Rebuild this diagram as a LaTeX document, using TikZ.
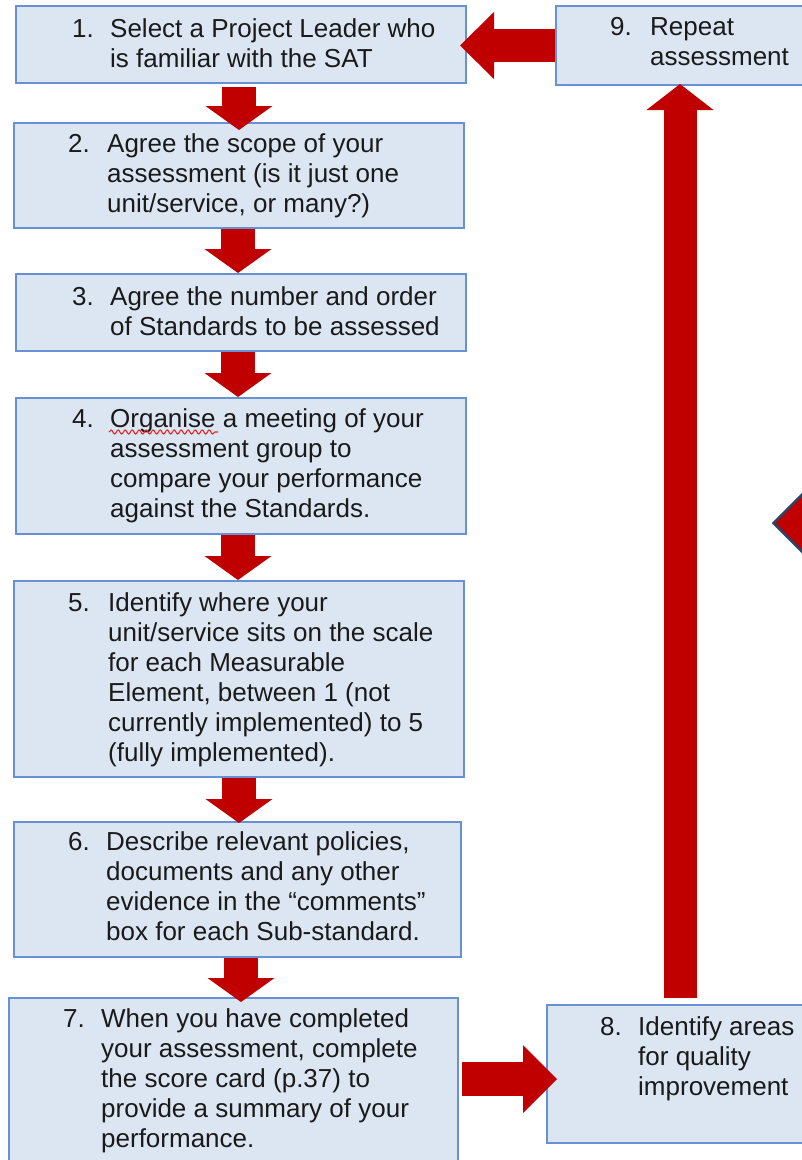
\documentclass[tikz,border=0pt]{standalone}
\usepackage{fontspec}
\setmainfont{Liberation Sans}
\usetikzlibrary{arrows.meta,shapes.geometric,decorations.pathmorphing}
\definecolor{boxfill}{HTML}{DCE6F2}
\definecolor{boxline}{HTML}{6890D4}
\definecolor{arrowred}{HTML}{C00000}
\definecolor{txt}{HTML}{1A1A1A}
\definecolor{dmdline}{HTML}{2B4566}
\definecolor{squig}{HTML}{E02828}
\newcommand\txtlines[1]{\vtop{\baselineskip=30pt\lineskiplimit=-50pt\lineskip=0pt\halign{##\hfil\cr#1\cr}}}
\begin{document}
\begin{tikzpicture}[x=1pt,y=-1pt,
  stepbox/.style={draw=boxline, fill=boxfill, line width=2pt, rectangle, inner sep=0pt, anchor=north west},
  txtnode/.style={inner sep=0pt, anchor=base west, text=txt, font=\fontsize{26}{30}\selectfont},
  blk/.style={draw=arrowred, line width=34pt, -{Triangle[width=67pt,length=24pt,line width=0pt]}},
  blkh/.style={draw=arrowred, line width=34pt, -{Triangle[width=68pt,length=34pt,line width=0pt]}},
]
\useasboundingbox (0,0) rectangle (802,1160);

% boxes
\node[stepbox, minimum width=450pt, minimum height=77pt] (b1) at (15,5) {};
\node[stepbox, minimum width=270pt, minimum height=79pt] (b9) at (555,5) {};
\node[stepbox, minimum width=450pt, minimum height=105pt] (b2) at (13,122) {};
\node[stepbox, minimum width=450pt, minimum height=77pt] (b3) at (15,273) {};
\node[stepbox, minimum width=450pt, minimum height=136pt] (b4) at (15,397) {};
\node[stepbox, minimum width=450pt, minimum height=196pt] (b5) at (13,580) {};
\node[stepbox, minimum width=447pt, minimum height=135pt] (b6) at (13,821) {};
\node[stepbox, minimum width=449pt, minimum height=180pt] (b7) at (8,997) {};
\node[stepbox, minimum width=280pt, minimum height=138pt] (b8) at (546,1004) {};

% texts
\node[txtnode] (n1) at (72,37) {1.};
\node[txtnode] (t1) at (110,37) {\txtlines{Select a Project Leader who\cr is familiar with the SAT}};
\node[txtnode] (n2) at (68,152) {2.};
\node[txtnode] (t2) at (107,152) {\txtlines{Agree the scope of your\cr assessment (is it just one\cr unit/service, or many?)}};
\node[txtnode] (n3) at (72,305) {3.};
\node[txtnode] (t3) at (110,305) {\txtlines{Agree the number and order\cr of Standards to be assessed}};
\node[txtnode] (n4) at (72,427) {4.};
\node[txtnode] (t4) at (110,427) {\txtlines{Organise a meeting of your\cr assessment group to\cr compare your performance\cr against the Standards.}};
\node[txtnode] (n5) at (68,611) {5.};
\node[txtnode] (t5) at (108,611) {\txtlines{Identify where your\cr unit/service sits on the scale\cr for each Measurable\cr Element, between 1 (not\cr currently implemented) to 5\cr (fully implemented).}};
\node[txtnode] (n6) at (68,850) {6.};
\node[txtnode] (t6) at (106,850) {\txtlines{Describe relevant policies,\cr documents and any other\cr evidence in the “comments”\cr box for each Sub-standard.}};
\node[txtnode] (n7) at (63,1027) {7.};
\node[txtnode] (t7) at (101,1027) {\txtlines{When you have completed\cr your assessment, complete\cr the score card (p.37) to\cr provide a summary of your\cr performance.}};
\node[txtnode] (n8) at (600,1035) {8.};
\node[txtnode] (t8) at (638,1035) {\txtlines{Identify areas\cr for quality\cr improvement}};
\node[txtnode] (n9) at (610,35) {9.};
\node[txtnode] (t9) at (650,35) {\txtlines{Repeat\cr assessment}};

% spell-check squiggle
\coordinate (sq1) at (109,432);
\coordinate (sq2) at (218,432);
\draw[squig, line width=1.1pt, decorate, decoration={snake, amplitude=2pt, segment length=7pt}] (sq1) -- (sq2);

% arrows
\draw[blk] ([xshift=-2pt,yshift=-3pt]b1.south) -- ([yshift=-8pt]b2.north);
\draw[blk] ([xshift=-1pt]b2.south) -- ([xshift=-3pt]b3.north);
\draw[blk] ([xshift=-3pt]b3.south) -- ([xshift=-3pt]b4.north);
\draw[blk] ([xshift=-3pt]b4.south) -- ([xshift=-1pt]b5.north);
\draw[blk] (b5.south) -- ([xshift=1.5pt,yshift=-2pt]b6.north);
\draw[blk] ([xshift=3.5pt]b6.south) -- ([xshift=7.5pt,yshift=-5pt]b7.north);
\draw[blkh] ([xshift=3pt,yshift=9pt]b7.east) -- ([xshift=11pt,yshift=-5pt]b8.west);
\draw[blk, line width=33pt, -{Triangle[width=67pt,length=26pt,line width=0pt]}] ([xshift=-7pt,yshift=6pt]b8.north) -- ([xshift=-11pt,yshift=2pt]b9.south);
\draw[blkh, line width=33pt, -{Triangle[width=67pt,length=34pt,line width=0pt]}] (b9.west) -- ([xshift=-7pt,yshift=-1pt]b1.east);

% partial diamond at right edge
\node[diamond, draw=dmdline, fill=arrowred, line width=2.5pt, minimum width=60pt, minimum height=60pt, inner sep=0pt, aspect=1] (dm) at (803,523) {};
\end{tikzpicture}
\end{document}
